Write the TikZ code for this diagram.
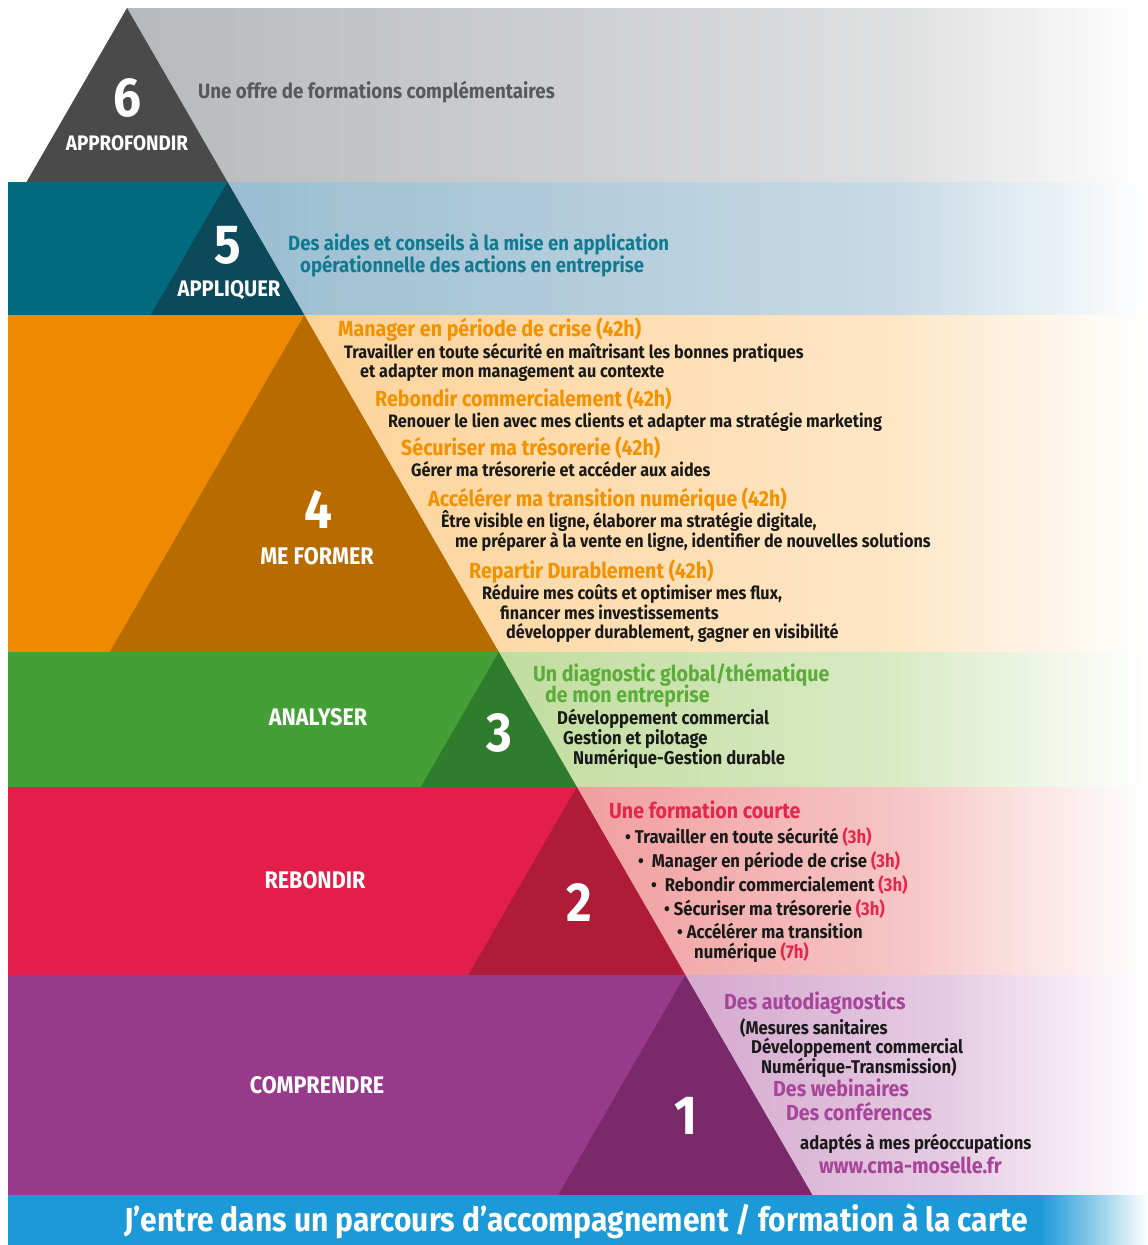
\documentclass[tikz,border=0pt]{standalone}
\usepackage{fontspec}
\setmainfont{Fira Sans}[FakeStretch=0.9]
\definecolor{g6a}{HTML}{B8B9BB}\definecolor{t6}{HTML}{4A4A4A}\definecolor{x6}{HTML}{58595B}
\definecolor{c5}{HTML}{006B7F}\definecolor{t5}{HTML}{0C4A5A}\definecolor{g5a}{HTML}{9BBDD1}\definecolor{x5}{HTML}{117A90}
\definecolor{c4}{HTML}{EF8900}\definecolor{t4}{HTML}{B86C00}\definecolor{g4a}{HTML}{FDD399}\definecolor{x4}{HTML}{F39200}
\definecolor{c3}{HTML}{44A036}\definecolor{t3}{HTML}{2E7C2C}\definecolor{g3a}{HTML}{C1DD9F}\definecolor{x3}{HTML}{5BAC39}
\definecolor{c2}{HTML}{E31E4A}\definecolor{t2}{HTML}{B01B37}\definecolor{g2a}{HTML}{F19E9E}\definecolor{x2}{HTML}{E6264B}
\definecolor{c1}{HTML}{983A8C}\definecolor{t1}{HTML}{7A2A6A}\definecolor{g1a}{HTML}{D5A9CF}\definecolor{x1}{HTML}{A8449A}
\definecolor{c0}{HTML}{1B9AD7}\definecolor{txtblack}{HTML}{1A1A1A}
\colorlet{g6m}{g6a!45!white}\colorlet{g5m}{g5a!55!white}\colorlet{g4m}{g4a!55!white}
\colorlet{g3m}{g3a!60!white}\colorlet{g2m}{g2a!60!white}\colorlet{g1m}{g1a!60!white}
\begin{document}
\begin{tikzpicture}[x=1pt,y=-1pt,
  num/.style={text=white,font=\fontsize{55}{55}\selectfont\bfseries,inner sep=0,anchor=mid,yshift=-14pt},
  lab/.style={text=white,font=\fontsize{24}{24}\selectfont\bfseries,inner sep=0,anchor=mid,yshift=-5pt},
  head/.style={font=\fontsize{21.8}{21.8}\selectfont\bfseries,inner sep=0,anchor=mid west,yshift=-4pt},
  desc/.style={text=txtblack,font=\fontsize{18.5}{18.5}\selectfont\bfseries,inner sep=0,anchor=mid west,yshift=-4pt},
  descb/.style={desc,font=\fontsize{18}{18}\selectfont\bfseries},
  bar/.style={text=white,font=\fontsize{33.3}{33.3}\selectfont\bfseries,inner sep=0,anchor=mid,yshift=-7pt}]
\useasboundingbox[fill=white] (0,0) rectangle (1148,1245);
% band 6
\shade[left color=g6a,right color=g6m] (127,8) rectangle (900,182);
\shade[left color=g6m,right color=white] (900,8) rectangle (1148,182);
\fill[t6] (127,8) -- (227.5,182) -- (26.5,182) -- cycle;
% band 5
\fill[c5] (8,182) -- (227.5,182) -- (304.3,315) -- (8,315) -- cycle;
\shade[left color=g5a,right color=g5m] (227.5,182) -- (900,182) -- (900,315) -- (304.3,315) -- cycle;
\shade[left color=g5m,right color=white] (900,182) rectangle (1148,315);
\fill[t5] (227.5,182) -- (304.3,315) -- (150.7,315) -- cycle;
% band 4
\fill[c4] (8,315) -- (304.3,315) -- (498.8,652) -- (8,652) -- cycle;
\shade[left color=g4a,right color=g4m] (304.3,315) -- (900,315) -- (900,652) -- (498.8,652) -- cycle;
\shade[left color=g4m,right color=white] (900,315) rectangle (1148,652);
\fill[t4] (304.3,315) -- (498.8,652) -- (109.8,652) -- cycle;
% band 3
\fill[c3] (8,652) -- (498.8,652) -- (576.8,787) -- (8,787) -- cycle;
\shade[left color=g3a,right color=g3m] (498.8,652) -- (900,652) -- (900,787) -- (576.8,787) -- cycle;
\shade[left color=g3m,right color=white] (900,652) rectangle (1148,787);
\fill[t3] (498.8,652) -- (576.8,787) -- (420.8,787) -- cycle;
% band 2
\fill[c2] (8,787) -- (576.8,787) -- (685.3,975) -- (8,975) -- cycle;
\shade[left color=g2a,right color=g2m] (576.8,787) -- (900,787) -- (900,975) -- (685.3,975) -- cycle;
\shade[left color=g2m,right color=white] (900,787) rectangle (1148,975);
\fill[t2] (576.8,787) -- (685.3,975) -- (468.3,975) -- cycle;
% band 1
\fill[c1] (8,975) -- (685.3,975) -- (812.4,1195) -- (8,1195) -- cycle;
\shade[left color=g1a,right color=g1m] (685.3,975) -- (950,975) -- (950,1195) -- (812.4,1195) -- cycle;
\shade[left color=g1m,right color=white] (950,975) rectangle (1148,1195);
\fill[t1] (685.3,975) -- (812.4,1195) -- (558.2,1195) -- cycle;
% bottom bar
\fill[c0] (8,1195) rectangle (1040,1245);
\shade[left color=c0,right color=white] (1040,1195) rectangle (1148,1245);

% texts band 6
\node[num] (n6) at (127,100) {6};
\node[lab,font=\fontsize{21}{21}\selectfont\bfseries] (l6) at (127,143) {APPROFONDIR};
\node[head,text=x6,font=\fontsize{20.8}{20.8}\selectfont\bfseries] (h6) at (198,92) {Une offre de formations complémentaires};
% band 5
\node[num] (n5) at (228,247) {5};
\node[lab,font=\fontsize{22.5}{22.5}\selectfont\bfseries] (l5) at (229,289) {APPLIQUER};
\node[head,text=x5,font=\fontsize{20.6}{20.6}\selectfont\bfseries] (h5a) at (288,244) {Des aides et conseils à la mise en application};
\node[head,text=x5,font=\fontsize{20.6}{20.6}\selectfont\bfseries] (h5b) at (300,266) {opérationnelle des actions en entreprise};
% band 4
\node[num] (n4) at (318,512) {4};
\node[lab] (l4) at (317,557) {ME FORMER};
\node[head,text=x4] (h4a) at (338,330) {Manager en période de crise (42h)};
\node[descb] (d4a1) at (344,352) {Travailler en toute sécurité en maîtrisant les bonnes pratiques};
\node[descb] (d4a2) at (360,371) {et adapter mon management au contexte};
\node[head,text=x4] (h4b) at (375,400) {Rebondir commercialement (42h)};
\node[descb] (d4b1) at (388,421) {Renouer le lien avec mes clients et adapter ma stratégie marketing};
\node[head,text=x4] (h4c) at (401,449) {Sécuriser ma trésorerie (42h)};
\node[descb] (d4c1) at (411,470) {Gérer ma trésorerie et accéder aux aides};
\node[head,text=x4] (h4d) at (428,500) {Accélérer ma transition numérique (42h)};
\node[descb] (d4d1) at (441,521) {Être visible en ligne, élaborer ma stratégie digitale,};
\node[descb] (d4d2) at (455,541) {me préparer à la vente en ligne, identifier de nouvelles solutions};
\node[head,text=x4] (h4e) at (469,572) {Repartir Durablement (42h)};
\node[descb] (d4e1) at (482,593) {Réduire mes coûts et optimiser mes flux,};
\node[descb] (d4e2) at (500,613) {financer mes investissements};
\node[descb] (d4e3) at (506,632) {développer durablement, gagner en visibilité};
% band 3
\node[lab] (l3) at (318,718) {ANALYSER};
\node[num] (n3) at (499,735) {3};
\node[head,text=x3] (h3a) at (533,675) {Un diagnostic global/thématique};
\node[head,text=x3] (h3b) at (545,696) {de mon entreprise};
\node[desc] (d3a) at (557,718) {Développement commercial};
\node[desc] (d3b) at (563,738) {Gestion et pilotage};
\node[desc] (d3c) at (573,758) {Numérique-Gestion durable};
% band 2
\node[lab] (l2) at (315,881) {REBONDIR};
\node[num] (n2) at (579,905) {2};
\node[head,text=x2] (h2) at (609,812) {Une formation courte};
\node[desc] (d2a) at (625,837) {• Travailler en toute sécurité \textcolor{x2}{(3h)}};
\node[desc] (d2b) at (638,861) {•\ \ Manager en période de crise \textcolor{x2}{(3h)}};
\node[desc] (d2c) at (651,885) {•\ \ Rebondir commercialement \textcolor{x2}{(3h)}};
\node[desc] (d2d) at (664,909) {• Sécuriser ma trésorerie \textcolor{x2}{(3h)}};
\node[desc] (d2e) at (677,932) {• Accélérer ma transition};
\node[desc] (d2f) at (694,952) {numérique \textcolor{x2}{(7h)}};
% band 1
\node[lab] (l1) at (317,1086) {COMPRENDRE};
\node[num] (n1) at (686,1118) {1};
\node[head,text=x1] (h1a) at (724,1003) {Des autodiagnostics};
\node[desc] (d1a) at (740,1028) {(Mesures sanitaires};
\node[desc] (d1b) at (751,1047) {Développement commercial};
\node[desc] (d1c) at (761,1067) {Numérique-Transmission)};
\node[head,text=x1] (h1b) at (773,1090) {Des webinaires};
\node[head,text=x1] (h1c) at (786,1114) {Des conférences};
\node[desc] (d1d) at (800,1143) {adaptés à mes préoccupations};
\node[head,text=x1] (h1d) at (819,1167) {www.cma-moselle.fr};
% bottom
\node[bar] (bt) at (576,1222) {J’entre dans un parcours d’accompagnement / formation à la carte};
\end{tikzpicture}
\end{document}
